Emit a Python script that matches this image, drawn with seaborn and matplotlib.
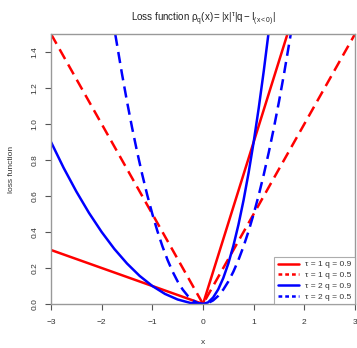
import matplotlib
matplotlib.use("Agg")
import matplotlib.pyplot as plt
import seaborn as sns
import pandas as pd

# tau = 1, q = 0.9 (solid red)
x_t1_q09 = [-3.0, 0.0, 1.667]
y_t1_q09 = [0.30, 0.0, 1.50]

# tau = 1, q = 0.5 (dashed red)
x_t1_q05 = [-3.0, 0.0, 3.0]
y_t1_q05 = [1.50, 0.0, 1.50]

# tau = 2, q = 0.9 (solid blue)
x_t2_q09 = [-3.0, -2.75, -2.5, -2.25, -2.0, -1.75, -1.5, -1.25, -1.0, -0.75, -0.5, -0.25, 0.0,
            0.1, 0.2, 0.3, 0.4, 0.5, 0.6, 0.7, 0.8, 0.9, 1.0, 1.1, 1.2, 1.29]
y_t2_q09 = [0.900, 0.756, 0.625, 0.506, 0.400, 0.306, 0.225, 0.156, 0.100, 0.056, 0.025, 0.006, 0.0,
            0.009, 0.036, 0.081, 0.144, 0.225, 0.324, 0.441, 0.576, 0.729, 0.900, 1.089, 1.296, 1.498]

# tau = 2, q = 0.5 (dashed blue)
x_t2_q05 = [-1.73, -1.6, -1.5, -1.4, -1.3, -1.2, -1.1, -1.0, -0.9, -0.8, -0.7, -0.6, -0.5, -0.4, -0.3,
            -0.2, -0.1, 0.0, 0.1, 0.2, 0.3, 0.4, 0.5, 0.6, 0.7, 0.8, 0.9, 1.0, 1.1, 1.2, 1.3, 1.4,
            1.5, 1.6, 1.73]
y_t2_q05 = [1.496, 1.280, 1.125, 0.980, 0.845, 0.720, 0.605, 0.500, 0.405, 0.320, 0.245, 0.180, 0.125,
            0.080, 0.045, 0.020, 0.005, 0.0, 0.005, 0.020, 0.045, 0.080, 0.125, 0.180, 0.245, 0.320,
            0.405, 0.500, 0.605, 0.720, 0.845, 0.980, 1.125, 1.280, 1.496]

labels = ["τ = 1 q = 0.9", "τ = 1 q = 0.5", "τ = 2 q = 0.9", "τ = 2 q = 0.5"]
colors = ["#ff0000", "#ff0000", "#0000ff", "#0000ff"]
styles = ["-", "--", "-", "--"]
series = [(x_t1_q09, y_t1_q09), (x_t1_q05, y_t1_q05), (x_t2_q09, y_t2_q09), (x_t2_q05, y_t2_q05)]

sns.set_style("white")
plt.rcParams["font.family"] = ["Liberation Sans", "DejaVu Sans"]
plt.rcParams["mathtext.fontset"] = "custom"
plt.rcParams["mathtext.rm"] = "Liberation Sans"
plt.rcParams["mathtext.it"] = "Liberation Sans"
plt.rcParams["mathtext.default"] = "regular"

fig = plt.figure(figsize=(3.57, 3.48), dpi=100)
ax = fig.add_axes([51 / 357, 1 - 304 / 348, 304 / 357, 270 / 348])

for (xs, ys), lab, col, ls in zip(series, labels, colors, styles):
    df = pd.DataFrame({"x": xs, "y": ys})
    sns.lineplot(data=df, x="x", y="y", ax=ax, color=col, linewidth=1.8, sort=False,
                 label=lab, estimator=None)
    ax.lines[-1].set_linestyle(ls)
    if ls == "--":
        ax.lines[-1].set_dashes((4.5, 2.5))

ax.set_xlim(-3, 3)
ax.set_ylim(0, 1.5)
ax.set_xticks([-3, -2, -1, 0, 1, 2, 3])
ax.set_yticks([0.0, 0.2, 0.4, 0.6, 0.8, 1.0, 1.2, 1.4])
ax.set_yticklabels(["0.0", "0.2", "0.4", "0.6", "0.8", "1.0", "1.2", "1.4"], rotation=90, va="center")
ax.tick_params(axis="both", labelsize=6, length=4, width=0.8, color="#555555", left=True, bottom=True,
               labelcolor="#333333")
ax.tick_params(axis="x", pad=7)
ax.tick_params(axis="y", pad=5)
for sp in ax.spines.values():
    sp.set_color("#999999")
    sp.set_linewidth(1.0)

ax.set_xlabel("x", fontsize=6, labelpad=9, color="#333333")
ax.set_ylabel("loss function", fontsize=6, labelpad=12, color="#333333")
ax.set_title(r"Loss function $\rho_q(x) = |x|^{\tau}|q - I_{(x<0)}|$", fontsize=7, pad=9, color="#222222")

leg = ax.legend(loc="lower right", fontsize=6, frameon=True, fancybox=False,
                borderaxespad=0, handlelength=2.5, labelspacing=0.35, edgecolor="#999999")
leg.get_frame().set_linewidth(0.8)
for t in leg.get_texts():
    t.set_color("#333333")
for h in leg.legend_handles:
    if h.get_linestyle() == "--":
        h.set_dashes((1.5, 1.2))

fig.savefig("out.png", dpi=100)
